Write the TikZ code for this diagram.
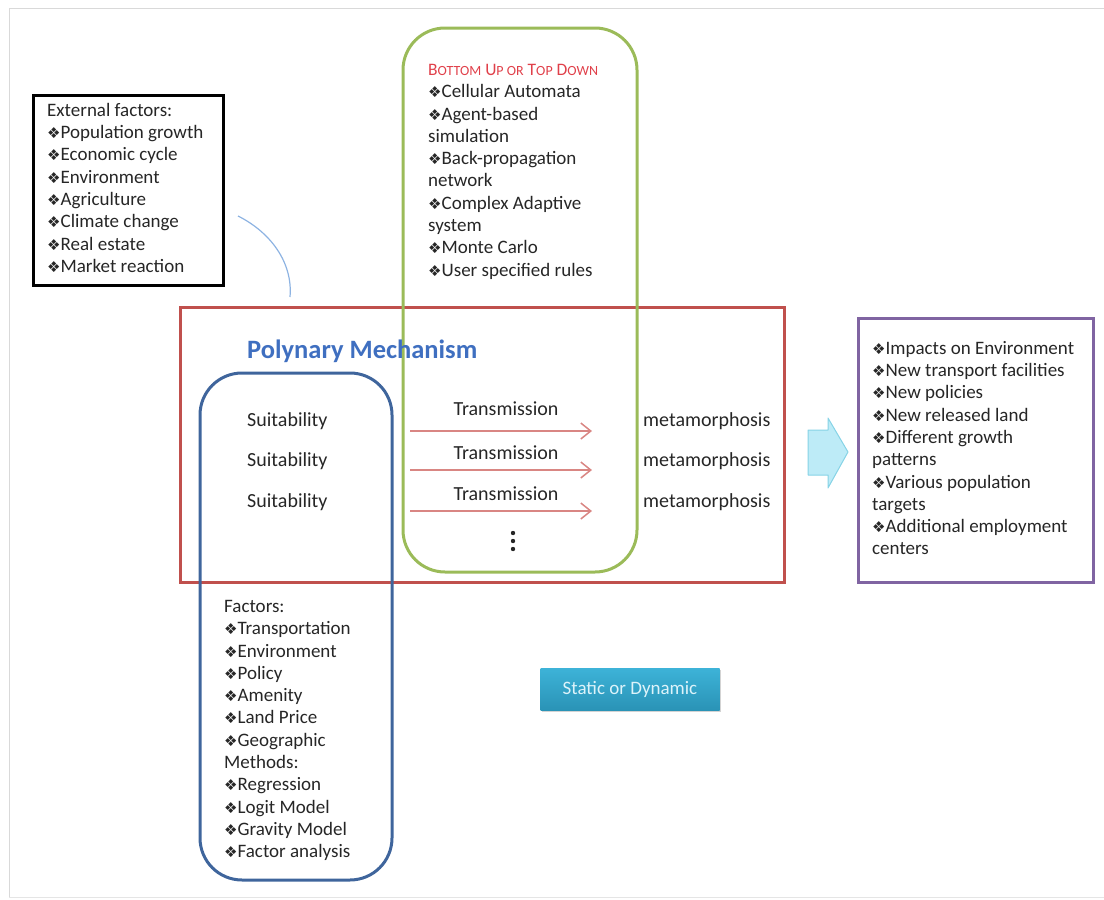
\documentclass[tikz,border=0pt]{standalone}
\usepackage{fontspec}
\setmainfont{Carlito}
\newfontfamily\symfont{DejaVu Sans}
\usetikzlibrary{arrows.meta,shadows}
\definecolor{greenline}{HTML}{9BBB59}
\definecolor{redline}{HTML}{C0504D}
\definecolor{blueline}{HTML}{3F659C}
\definecolor{purpleline}{HTML}{8064A2}
\definecolor{titleblue}{HTML}{3F6FC0}
\definecolor{arrowred}{HTML}{D98683}
\definecolor{curveblue}{HTML}{8DB3E2}
\definecolor{cyanfill}{HTML}{BDEBF7}
\definecolor{cyanline}{HTML}{86D3E6}
\definecolor{headred}{HTML}{E0404A}
\definecolor{buttontop}{HTML}{3DB3D8}
\definecolor{buttonbottom}{HTML}{2A93B6}
\definecolor{buttontext}{HTML}{DDF3FA}
\newcommand{\dia}{{\symfont\fontsize{15}{15}\selectfont ❖}}

\begin{document}
\begin{tikzpicture}[x=1pt, y=-1pt,
  listtext/.style={align=left, anchor=north west, inner sep=0pt,
    font=\fontsize{19}{22.3}\selectfont, text=black!85},
  midtext/.style={inner sep=0pt, font=\fontsize{20}{24}\selectfont, text=black!85},
  roundbox/.style={line width=3pt, rounded corners=42pt},
  squarebox/.style={line width=3pt},
  flowarrow/.style={-{Straight Barb[length=10pt,width=16pt]}, line width=1.5pt, draw=arrowred},
  buttonbox/.style={rectangle, minimum width=179pt, minimum height=42pt, inner sep=0pt,
    top color=buttontop, bottom color=buttonbottom, draw=none,
    drop shadow={shadow xshift=1pt, shadow yshift=-2pt, opacity=0.35},
    text=buttontext, font=\fontsize{19}{22}\selectfont}
]
\useasboundingbox (0,0) rectangle (1104,900);

% ---------- Page frame ----------
\draw[black!15, line width=1pt] (9,897) -- (9,8) -- (1104,8);
\draw[black!10, line width=1pt] (9,897) -- (1104,897);

% ---------- Boxes ----------
\draw[squarebox, draw=redline] (180,307) rectangle (784,582);
\draw[roundbox, draw=blueline] (200,373) rectangle (392,880);
\draw[roundbox, draw=greenline] (403,28) rectangle (637,572);
\draw[squarebox, draw=black] (33,95) rectangle (223,285);
\draw[squarebox, draw=purpleline] (858,318) rectangle (1093,582);

% ---------- Lists ----------
\node[listtext] (external) at (47,103) {External factors:\\
  \dia Population growth\\ \dia Economic cycle\\ \dia Environment\\
  \dia Agriculture\\ \dia Climate change\\ \dia Real estate\\ \dia Market reaction};

\node[listtext] (models) at (428,64) {%
  {\color{headred}\fontsize{17.5}{20}\selectfont B{\fontsize{14}{20}\selectfont OTTOM}
   U{\fontsize{14}{20}\selectfont P OR} T{\fontsize{14}{20}\selectfont OP}
   D{\fontsize{14}{20}\selectfont OWN}}\\
  \dia Cellular Automata\\ \dia Agent-based\\ simulation\\
  \dia Back-propagation\\ network\\ \dia Complex Adaptive\\ system\\
  \dia Monte Carlo\\ \dia User specified rules};

\node[listtext] (factors) at (224,600) {Factors:\\
  \dia Transportation\\ \dia Environment\\ \dia Policy\\ \dia Amenity\\
  \dia Land Price\\ \dia Geographic\\ Methods:\\ \dia Regression\\
  \dia Logit Model\\ \dia Gravity Model\\ \dia Factor analysis};

\node[listtext] (impacts) at (872,341) {%
  \dia Impacts on Environment\\ \dia New transport facilities\\
  \dia New policies\\ \dia New released land\\ \dia Different growth\\
  patterns\\ \dia Various population\\ targets\\
  \dia Additional employment\\ centers};

% ---------- Mechanism ----------
\node[anchor=west, inner sep=0pt, text=titleblue, font=\fontsize{26.5}{30}\selectfont\bfseries]
  (title) at (247,351) {Polynary Mechanism};

\node[midtext, anchor=west] (suit1) at (247,421) {Suitability};
\node[midtext, anchor=west] (suit2) at (247,461) {Suitability};
\node[midtext, anchor=west] (suit3) at (247,502) {Suitability};

\node[midtext] (trans1) at (506,409) {Transmission};
\node[midtext] (trans2) at (506,453) {Transmission};
\node[midtext] (trans3) at (506,494) {Transmission};

\node[midtext, anchor=west] (meta1) at (643,421) {metamorphosis};
\node[midtext, anchor=west] (meta2) at (643,461) {metamorphosis};
\node[midtext, anchor=west] (meta3) at (643,502) {metamorphosis};

% vertical ellipsis
\fill[black!85] (513,533) circle (2.2pt) (513,541) circle (2.2pt) (513,549) circle (2.2pt);

\coordinate (from1) at (410,431);
\coordinate (to1) at (592,431);
\coordinate (from2) at (410,470);
\coordinate (to2) at (592,470);
\coordinate (from3) at (410,511);
\coordinate (to3) at (592,511);
\draw[flowarrow] (from1) -- (to1);
\draw[flowarrow] (from2) -- (to2);
\draw[flowarrow] (from3) -- (to3);

% ---------- Link from external factors ----------
\coordinate (linkstart) at (238,216);
\coordinate (linkend) at (290,297);
\draw[curveblue, line width=1.2pt] (linkstart) .. controls (270,232) and (293,262) .. (linkend);

% ---------- Output arrow ----------
\draw[fill=cyanfill, draw=cyanline, line width=1pt, line join=round]
  (808,430) -- (828,430) -- (828,418) -- (848,452) -- (828,488) -- (828,475) -- (808,475) -- cycle;

% ---------- Button ----------
\node[buttonbox] (mode) at (630,689) {Static or Dynamic};

\end{tikzpicture}
\end{document}
